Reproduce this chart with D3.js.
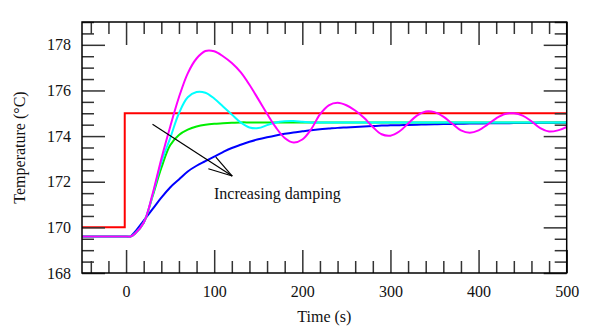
<!DOCTYPE html>
<html>
<head>
<meta charset="utf-8">
<script src="https://cdn.jsdelivr.net/npm/d3@7"></script>
<style>
  body { margin: 0; background: #fff; }
  svg text { font-family: "Liberation Serif", "Times New Roman", serif !important; fill: #111; }
</style>
</head>
<body>
<svg id="chart" width="600" height="333"></svg>
<script>
// time grid (s) shared by the four response curves
var timeS = [-50, 0, 5, 10, 20, 30, 40, 50, 60, 70, 80, 90, 100, 110, 120, 130, 140, 150, 160, 170, 180, 190,
  200, 210, 220, 230, 240, 250, 260, 270, 280, 290, 300, 310, 320, 330, 340, 350, 360, 370, 380, 390,
  400, 410, 420, 430, 440, 450, 460, 470, 480, 490, 500];

var blueT = [169.6, 169.6, 169.6, 169.8, 170.3, 170.8, 171.3, 171.75, 172.1, 172.45, 172.7, 172.9, 173.1, 173.3, 173.48, 173.62, 173.75, 173.86, 173.95, 174.03, 174.1, 174.16,
  174.21, 174.26, 174.3, 174.33, 174.36, 174.38, 174.4, 174.42, 174.44, 174.46, 174.47, 174.48, 174.49, 174.5, 174.51, 174.52, 174.53, 174.53, 174.54, 174.55,
  174.55, 174.56, 174.56, 174.56, 174.57, 174.57, 174.57, 174.58, 174.58, 174.58, 174.58];

var greenT = [169.6, 169.6, 169.6, 169.72, 170.2, 171.35, 172.6, 173.6, 174.05, 174.28, 174.42, 174.5, 174.54, 174.56, 174.58, 174.6, 174.6, 174.6, 174.6, 174.6, 174.6, 174.6,
  174.6, 174.6, 174.6, 174.6, 174.6, 174.6, 174.6, 174.6, 174.6, 174.6, 174.6, 174.6, 174.6, 174.6, 174.6, 174.6, 174.6, 174.6, 174.6, 174.6,
  174.6, 174.6, 174.6, 174.6, 174.6, 174.6, 174.6, 174.6, 174.6, 174.6, 174.6];

var cyanT = [169.6, 169.6, 169.6, 169.72, 170.2, 171.4, 172.85, 173.9, 175.0, 175.7, 175.93, 175.9, 175.65, 175.3, 174.95, 174.6, 174.38, 174.35, 174.48, 174.6, 174.65, 174.66,
  174.63, 174.6, 174.6, 174.6, 174.6, 174.6, 174.6, 174.6, 174.6, 174.6, 174.6, 174.6, 174.6, 174.6, 174.6, 174.6, 174.6, 174.6, 174.6, 174.6,
  174.6, 174.6, 174.6, 174.6, 174.6, 174.6, 174.6, 174.6, 174.6, 174.6, 174.6];

var magentaT = [169.6, 169.6, 169.6, 169.72, 170.2, 171.45, 173.0, 174.4, 175.7, 176.75, 177.4, 177.73, 177.72, 177.5, 177.2, 176.8, 176.25, 175.62, 174.98, 174.38, 173.92, 173.72,
  173.85, 174.3, 174.95, 175.35, 175.46, 175.35, 175.12, 174.8, 174.4, 174.08, 174.02, 174.2, 174.55, 174.9, 175.08, 175.05, 174.85, 174.55, 174.25, 174.15,
  174.25, 174.5, 174.78, 174.97, 175.0, 174.9, 174.65, 174.35, 174.2, 174.25, 174.4];

// setpoint step
var stepS = [-50, -1.5, -1.5, 500];
var stepT = [170, 170, 175, 175];

var xMajor = [0, 100, 200, 300, 400, 500];
var yMajor = [168, 170, 172, 174, 176, 178];

// annotation arrow, in data units
var arrowFrom = [30, 174.52];
var arrowTo = [120.5, 172.25];

var margin = {left: 82, top: 22, right: 33.3, bottom: 60};
var width = 600 - margin.left - margin.right,
    height = 333 - margin.top - margin.bottom;

var serif = '"Liberation Serif", "Times New Roman", serif';

var svg = d3.select("#chart");
var g = svg.append("g").attr("transform", "translate(" + margin.left + "," + margin.top + ")");

var x = d3.scaleLinear().domain([-50, 500]).range([0, width]);
var y = d3.scaleLinear().domain([168, 179]).range([height, 0]);

var xMinor = d3.range(-40, 500, 20).filter(function(v){ return v % 100 != 0; });
var yMinor = d3.range(168.5, 179.1, 0.5).filter(function(v){ return v % 2 != 0; });

g.append("clipPath").attr("id", "clip")
  .append("rect").attr("width", width).attr("height", height);

// curves
var line = d3.line()
  .x(function(d){ return x(d[0]); })
  .y(function(d){ return y(d[1]); })
  .curve(d3.curveCatmullRom.alpha(0.5));

var plot = g.append("g").attr("clip-path", "url(#clip)");

plot.append("path")
  .datum(stepS.map(function(t, i){ return [t, stepT[i]]; }))
  .attr("fill", "none")
  .attr("stroke", "#ff0000")
  .attr("stroke-width", 2)
  .attr("d", d3.line().x(function(d){ return x(d[0]); }).y(function(d){ return y(d[1]); }));

var series = [
  {vals: blueT, color: "#0000ff"},
  {vals: greenT, color: "#00ee00"},
  {vals: cyanT, color: "#00ffff"},
  {vals: magentaT, color: "#ff00ff"}
];

series.forEach(function(s){
  plot.append("path")
    .datum(timeS.map(function(t, i){ return [t, s.vals[i]]; }))
    .attr("fill", "none")
    .attr("stroke", s.color)
    .attr("stroke-width", 2)
    .attr("d", line);
});

// axes, ticks pointing inward
function styleAxis(sel){
  sel.attr("font-family", null);
  sel.select(".domain").remove();
  sel.selectAll(".tick line").attr("stroke", "#333").attr("stroke-width", 1.5);
  sel.selectAll("text").attr("font-size", 16).style("fill", "#111")
    .style("font-family", serif);
}

g.append("g").attr("transform", "translate(0," + height + ")")
  .call(d3.axisBottom(x).tickValues(xMajor).tickSize(-23).tickPadding(13).tickSizeOuter(0))
  .call(styleAxis);
g.append("g").attr("transform", "translate(0," + height + ")")
  .call(d3.axisBottom(x).tickValues(xMinor).tickSize(-12).tickFormat("").tickSizeOuter(0))
  .call(styleAxis);
g.append("g")
  .call(d3.axisTop(x).tickValues(xMajor).tickSize(-23).tickFormat("").tickSizeOuter(0))
  .call(styleAxis);
g.append("g")
  .call(d3.axisTop(x).tickValues(xMinor).tickSize(-12).tickFormat("").tickSizeOuter(0))
  .call(styleAxis);

g.append("g")
  .call(d3.axisLeft(y).tickValues(yMajor).tickSize(-23).tickPadding(11).tickSizeOuter(0))
  .call(styleAxis);
g.append("g")
  .call(d3.axisLeft(y).tickValues(yMinor).tickSize(-12).tickFormat("").tickSizeOuter(0))
  .call(styleAxis);
g.append("g").attr("transform", "translate(" + width + ",0)")
  .call(d3.axisRight(y).tickValues(yMajor).tickSize(-23).tickFormat("").tickSizeOuter(0))
  .call(styleAxis);
g.append("g").attr("transform", "translate(" + width + ",0)")
  .call(d3.axisRight(y).tickValues(yMinor).tickSize(-12).tickFormat("").tickSizeOuter(0))
  .call(styleAxis);

// frame
g.append("rect")
  .attr("width", width).attr("height", height)
  .attr("fill", "none").attr("stroke", "#000").attr("stroke-width", 1.5);

// arrow annotation
var ax0 = x(arrowFrom[0]), ay0 = y(arrowFrom[1]),
    ax1 = x(arrowTo[0]), ay1 = y(arrowTo[1]);
var ang = Math.atan2(ay0 - ay1, ax0 - ax1);
var headLen = 25, headAng = 16 * Math.PI / 180;
var arrow = g.append("g").attr("stroke", "#000").attr("stroke-width", 1.2).attr("fill", "none");
arrow.append("line").attr("x1", ax0).attr("y1", ay0).attr("x2", ax1).attr("y2", ay1);
[-1, 1].forEach(function(sg){
  arrow.append("line")
    .attr("x1", ax1).attr("y1", ay1)
    .attr("x2", ax1 + headLen * Math.cos(ang + sg * headAng))
    .attr("y2", ay1 + headLen * Math.sin(ang + sg * headAng));
});

g.append("text")
  .attr("x", 214 - margin.left).attr("y", 198.5 - margin.top)
  .attr("font-size", 16)
  .text("Increasing damping");

// axis titles
svg.append("text")
  .attr("x", margin.left + width / 2).attr("y", 322)
  .attr("text-anchor", "middle").attr("font-size", 16)
  .text("Time (s)");

svg.append("text")
  .attr("transform", "translate(25," + (margin.top + height / 2) + ") rotate(-90)")
  .attr("text-anchor", "middle").attr("font-size", 16)
  .text("Temperature (°C)");
</script>
</body>
</html>
